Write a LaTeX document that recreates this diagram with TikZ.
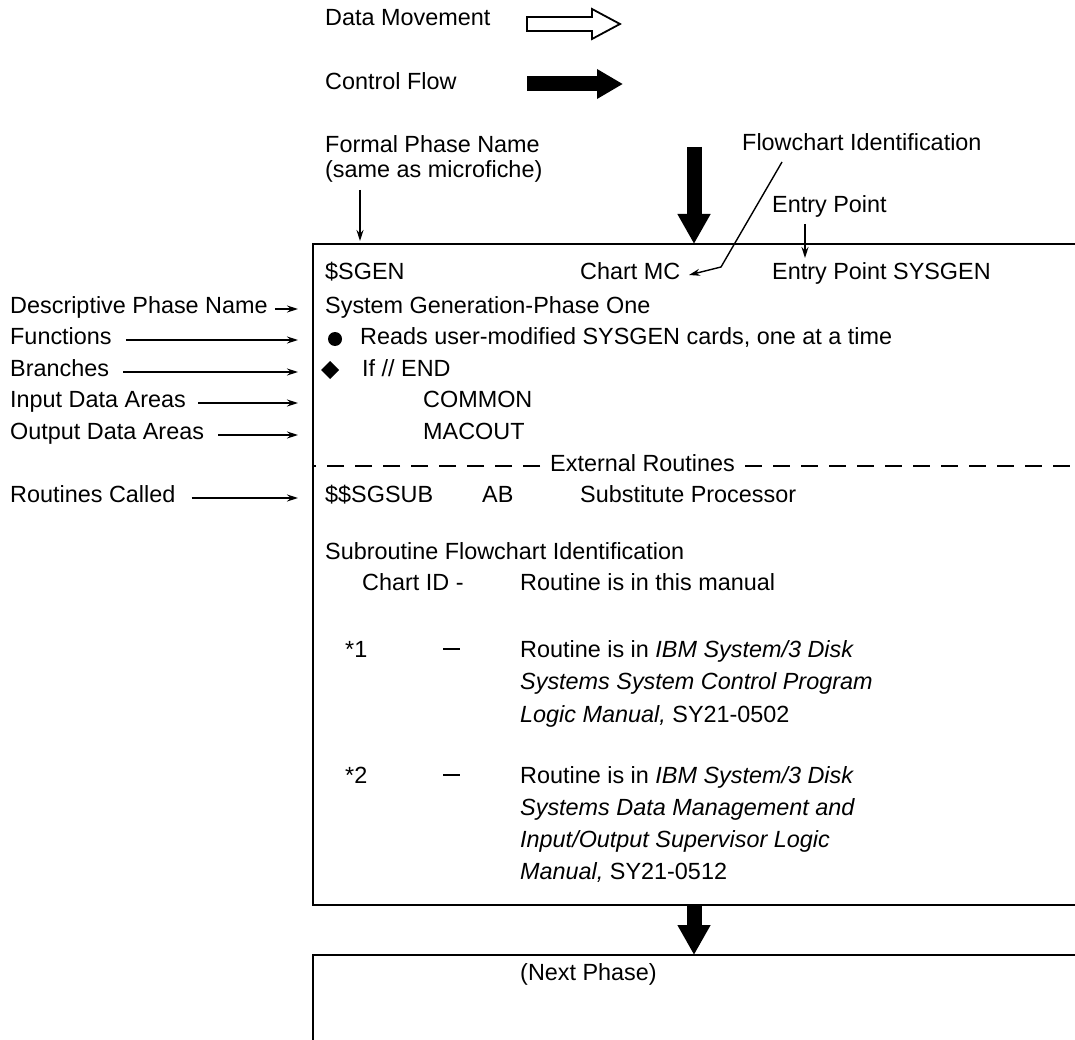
\documentclass[tikz,border=0pt]{standalone}
\usepackage{fontspec}
\setmainfont{Liberation Sans}
\usetikzlibrary{arrows.meta,calc}
\begin{document}
\begin{tikzpicture}[x=1pt,y=-1pt,
  txt/.style={anchor=mid west, inner sep=0pt, font=\fontsize{23.4}{28}\selectfont},
  boxline/.style={line width=2.4pt},
  pointer/.style={line width=1.4pt, -{Stealth[length=11pt,width=7pt]}},
  ctrl/.style={line width=15pt, -{Triangle[width=31pt,length=30pt]}},
  ctrlkey/.style={line width=15pt, -{Triangle[width=28pt,length=26pt]}},
  datakey/.style={line width=1.8pt, line join=miter},
  extdash/.style={line width=2pt, dash pattern=on 17pt off 11pt}
]
\useasboundingbox (0,0) rectangle (1075,1040);
\clip (0,0) rectangle (1075,1040);

% ---- legend ----
\node[txt] (kData) at (325,23) {Data Movement};
\draw[datakey] (527,17) -- (592,17) -- (592,9) -- (620,24) -- (592,39) -- (592,31) -- (527,31) -- cycle;
\node[txt] (kCtrl) at (325,87) {Control Flow};
\coordinate (kCtrlA) at (527,84);
\coordinate (kCtrlB) at (623,84);
\draw[ctrlkey] (kCtrlA) -- (kCtrlB);

% ---- annotations above the phase box ----
\node[txt] (fpn) at (325,150) {Formal Phase Name};
\node[txt] (fpn2) at (325,175) {(same as microfiche)};
\node[txt] (fcid) at (742,148) {Flowchart Identification};
\node[txt] (ep) at (772,210) {Entry Point};

% ---- phase box ----
\coordinate (bl) at (313,0);
\draw[boxline] (1090,244) -- (313,244) -- (313,905) -- (1090,905);
\coordinate (topA) at (694,147);
\coordinate (topB) at (694,244);
\draw[ctrl] (topA) -- (topB);

\coordinate (fpTail) at (360,190);
\coordinate (fpHead) at (360,241);
\draw[pointer] (fpTail) -- (fpHead);
\coordinate (epTail) at (805,224);
\coordinate (epHead) at (805,258);
\draw[pointer] (epTail) -- (epHead);

\node[txt] (sgen) at (325,277) {\$SGEN};
\node[txt] (chart) at (580,277) {Chart MC};
\node[txt] (entry) at (772,277) {Entry Point SYSGEN};
\coordinate (fcTail) at (782,162);
\coordinate (fcBend) at (721,267);
\coordinate (fcHead) at (689,275);
\draw[pointer] (fcTail) -- (fcBend) -- (fcHead);

\node[txt] (desc) at (325,311) {System Generation-Phase One};
\fill (335,339) circle (7pt);
\node[txt] (func) at (360,342) {Reads user-modified SYSGEN cards, one at a time};
\fill (330,361) -- (339,370) -- (330,379) -- (321,370) -- cycle;
\node[txt] (branch) at (362,374) {If // END};
\node[txt] (inp) at (423,405) {COMMON};
\node[txt] (outp) at (423,437) {MACOUT};

% dashed separator, each half dashed outward from the caption
\node[txt] (ext) at (550,469) {External Routines};
\draw[extdash] ($(ext.mid west)+(-10,-3)$) -- (313,466);
\draw[extdash] ($(ext.mid east)+(10,-3)$) -- (1090,466);

\node[txt] (rsub) at (325,500) {\$\$SGSUB};
\node[txt] (rab) at (482,500) {AB};
\node[txt] (rname) at (580,500) {Substitute Processor};

\node[txt] (sfi) at (325,557) {Subroutine Flowchart Identification};
\node[txt] (cid) at (362,588) {Chart ID -};
\node[txt] (cidt) at (520,588) {Routine is in this manual};

\node[txt] (s1) at (345,655) {*1};
\node[txt] (d1) at (443,655) {\rule[7.5pt]{17pt}{1.8pt}};
\node[txt] (r1a) at (520,655) {Routine is in \textit{IBM System/3 Disk}};
\node[txt] (r1b) at (520,687) {\textit{Systems System Control Program}};
\node[txt] (r1c) at (520,720) {\textit{Logic Manual,} SY21-0502};

\node[txt] (s2) at (345,781) {*2};
\node[txt] (d2) at (443,781) {\rule[7.5pt]{17pt}{1.8pt}};
\node[txt] (r2a) at (520,781) {Routine is in \textit{IBM System/3 Disk}};
\node[txt] (r2b) at (520,813) {\textit{Systems Data Management and}};
\node[txt] (r2c) at (520,845) {\textit{Input/Output Supervisor Logic}};
\node[txt] (r2d) at (520,877) {\textit{Manual,} SY21-0512};

% ---- flow to the next phase ----
\coordinate (botA) at (694,905);
\coordinate (botB) at (694,955);
\draw[ctrl] (botA) -- (botB);
\draw[boxline] (1090,955) -- (313,955) -- (313,1050);
\node[txt] (next) at (520,978) {(Next Phase)};

% ---- left-hand labels ----
\node[txt] (lDesc) at (10,311) {Descriptive Phase Name};
\node[txt] (lFunc) at (10,342) {Functions};
\node[txt] (lBr) at (10,374) {Branches};
\node[txt] (lIn) at (10,405) {Input Data Areas};
\node[txt] (lOut) at (10,437) {Output Data Areas};
\node[txt] (lRt) at (10,500) {Routines Called};
\draw[pointer] ($(lDesc.mid east)+(7,-2)$) -- ($(lDesc.mid east -| bl)+(-15,-2)$);
\draw[pointer] ($(lFunc.mid east)+(14,-2)$) -- ($(lFunc.mid east -| bl)+(-15,-2)$);
\draw[pointer] ($(lBr.mid east)+(14,-2)$) -- ($(lBr.mid east -| bl)+(-15,-2)$);
\draw[pointer] ($(lIn.mid east)+(12,-2)$) -- ($(lIn.mid east -| bl)+(-15,-2)$);
\draw[pointer] ($(lOut.mid east)+(14,-2)$) -- ($(lOut.mid east -| bl)+(-15,-2)$);
\draw[pointer] ($(lRt.mid east)+(16,-2)$) -- ($(lRt.mid east -| bl)+(-15,-2)$);
\end{tikzpicture}
\end{document}
